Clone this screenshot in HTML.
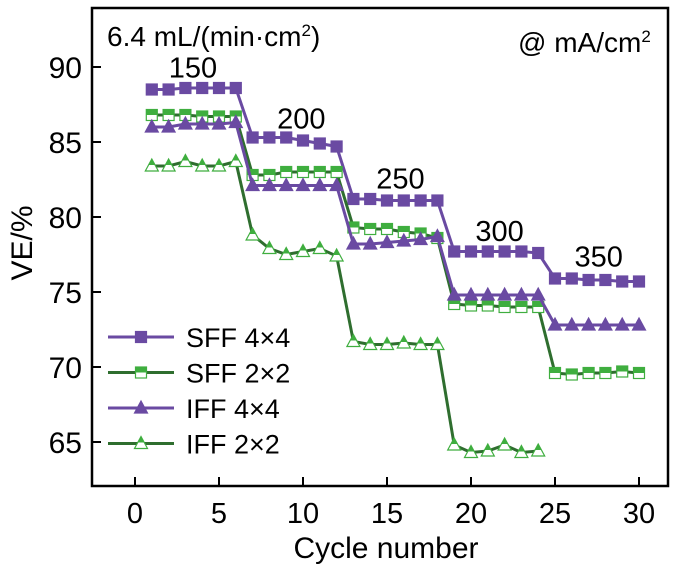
<!DOCTYPE html>
<html><head><meta charset="utf-8"><style>
body{margin:0;background:#fff}
svg{display:block;font-family:"Liberation Sans",sans-serif}
</style></head><body>
<svg id="c" width="686" height="567">
<defs>
<linearGradient id="half" x1="0" y1="0" x2="0" y2="1"><stop offset="0.5" stop-color="#3fae3f"/><stop offset="0.5" stop-color="#fff"/></linearGradient>
</defs>
</svg>
<script>
const cycles=[1,2,3,4,5,6,7,8,9,10,11,12,13,14,15,16,17,18,19,20,21,22,23,24,25,26,27,28,29,30];
const sff44=[88.5,88.5,88.6,88.6,88.6,88.6,85.3,85.3,85.3,85.1,84.9,84.7,81.2,81.2,81.1,81.1,81.1,81.1,77.7,77.7,77.7,77.7,77.7,77.6,75.9,75.9,75.8,75.8,75.7,75.7];
const sff22=[86.8,86.8,86.8,86.7,86.7,86.7,82.8,82.8,83.0,83.0,83.0,83.0,79.3,79.2,79.2,79.0,78.9,78.6,74.2,74.1,74.1,74.0,74.0,74.0,69.6,69.5,69.6,69.6,69.7,69.6];
const iff44=[86.0,86.0,86.2,86.2,86.2,86.3,82.1,82.1,82.1,82.1,82.1,82.1,78.2,78.2,78.3,78.4,78.5,78.7,74.8,74.8,74.8,74.8,74.8,74.8,72.8,72.8,72.8,72.8,72.8,72.8];
const iff22=[83.4,83.4,83.7,83.4,83.4,83.7,78.8,77.9,77.5,77.7,77.9,77.4,71.7,71.5,71.5,71.6,71.5,71.5,64.8,64.3,64.4,64.8,64.3,64.4];
const xTicks=[0,5,10,15,20,25,30];
const yTicks=[65,70,75,80,85,90];
const currents=[150,200,250,300,350];
const currentPos=[[3.45,89.3],[9.9,85.9],[15.8,81.9],[21.7,78.4],[27.6,76.7]];

const NS="http://www.w3.org/2000/svg";
const svg=document.getElementById('c');
const X=v=>135+v*16.8, Y=v=>67+(90-v)*15;
function el(t,a,txt){const e=document.createElementNS(NS,t);for(const k in a)e.setAttribute(k,a[k]);if(txt!==undefined)e.textContent=txt;svg.appendChild(e);return e;}

const frame=el('rect',{x:92,y:8,width:576,height:478,fill:'none',stroke:'#000','stroke-width':2.5});

xTicks.forEach(t=>{
  const l=el('line',{x1:X(t),x2:X(t),y1:486,y2:477,stroke:'#000','stroke-width':2});
  
  const s=el('text',{x:X(t),y:523,'font-size':29,'text-anchor':'middle'},t);
  
});
yTicks.forEach(t=>{
  const l=el('line',{x1:92,x2:101,y1:Y(t),y2:Y(t),stroke:'#000','stroke-width':2});
  
  const s=el('text',{x:82,y:Y(t)+11,'font-size':30,'text-anchor':'end'},t);
  
});
const xt=el('text',{x:386,y:558,'font-size':30,'text-anchor':'middle'},'Cycle number');

const yt=el('text',{x:32,y:243,'font-size':30,'text-anchor':'middle',transform:'rotate(-90 32 243)'},'VE/%');

const t1=el('text',{x:107,y:46,'font-size':28},'6.4 mL/(min·cm');

const t1b=el('tspan',{dy:-10,'font-size':17},'2');t1.appendChild(t1b);
const t1c=el('tspan',{dy:10},')');t1.appendChild(t1c);
const t2=el('text',{x:518,y:52,'font-size':28},'@ mA/cm');

const t2b=el('tspan',{dy:-10,'font-size':17},'2');t2.appendChild(t2b);
currents.forEach((c,i)=>{
  const s=el('text',{x:X(currentPos[i][0]),y:Y(currentPos[i][1]),'font-size':29,'text-anchor':'middle'},c);
  
});

const P='#6a4aa2',G='#3fae3f',GL='#2f6e2f';
function marker(x,y,shape,fill,stroke){
  let m;
  if(shape==='sq') m=el('rect',{x:x-5.5,y:y-5.5,width:11,height:11,fill:fill,stroke:stroke,'stroke-width':1.2});
  else m=el('polygon',{points:`${x},${y-7} ${x-6.5},${y+5} ${x+6.5},${y+5}`,fill:fill,stroke:stroke,'stroke-width':1.2});
  return m;
}
const series=[
 {name:'SFF 4×4',data:sff44,line:P,shape:'sq',fill:P,stroke:P},
 {name:'SFF 2×2',data:sff22,line:GL,shape:'sq',fill:'url(#half)',stroke:G},
 {name:'IFF 4×4',data:iff44,line:P,shape:'tri',fill:P,stroke:P},
 {name:'IFF 2×2',data:iff22,line:GL,shape:'tri',fill:'url(#half)',stroke:G}];
series.forEach((s,si)=>{
  const pts=s.data.map((v,i)=>X(cycles[i])+','+Y(v)).join(' ');
  const pl=el('polyline',{points:pts,fill:'none',stroke:s.line,'stroke-width':3});
  
  s.data.forEach((v,i)=>{
    const m=marker(X(cycles[i]),Y(v),s.shape,s.fill,s.stroke);
    
  });
  const ly=337+si*35.5;
  const ll=el('line',{x1:108,x2:174,y1:ly,y2:ly,stroke:s.line,'stroke-width':3});
  
  const lm=marker(141,ly,s.shape,s.fill,s.stroke);
  
  const lt=el('text',{x:186,y:ly+10,'font-size':27},s.name);
  
});
</script>
</body></html>
